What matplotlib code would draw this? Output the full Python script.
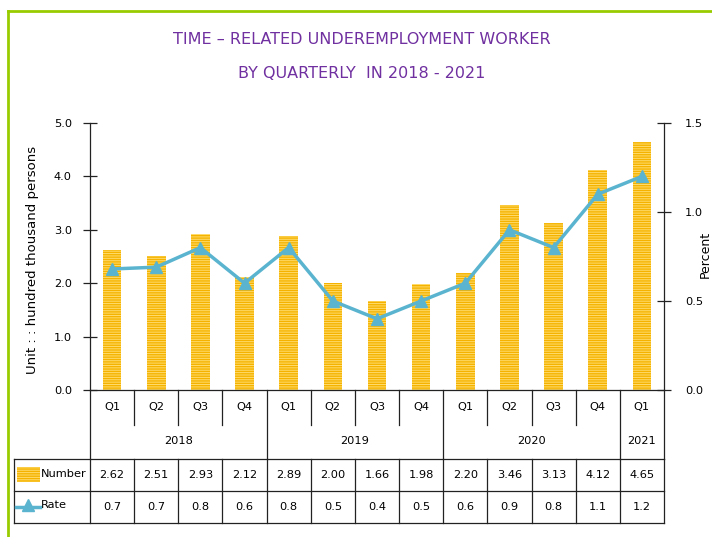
import matplotlib
matplotlib.use('Agg')
import matplotlib.pyplot as plt
from matplotlib.lines import Line2D
from matplotlib.patches import Rectangle
import matplotlib.transforms as mtransforms

# ---- data ----
quarters = ['Q1', 'Q2', 'Q3', 'Q4', 'Q1', 'Q2', 'Q3', 'Q4', 'Q1', 'Q2', 'Q3', 'Q4', 'Q1']
years = ['2018', '2019', '2020', '2021']
year_counts = [4, 4, 4, 1]
number = [2.62, 2.51, 2.93, 2.12, 2.89, 2.00, 1.66, 1.98, 2.20, 3.46, 3.13, 4.12, 4.65]
rate = [0.68, 0.69, 0.8, 0.6, 0.8, 0.5, 0.4, 0.5, 0.6, 0.9, 0.8, 1.1, 1.2]
left_ticks = [0.0, 1.0, 2.0, 3.0, 4.0, 5.0]
right_ticks = [0.0, 0.5, 1.0, 1.5]
title1 = 'TIME \u2013 RELATED UNDEREMPLOYMENT WORKER'
title2 = 'BY QUARTERLY  IN 2018 - 2021'
ylabel_left = 'Unit : : hundred thousand persons'
ylabel_right = 'Percent'
row_labels = ['Number', 'Rate']

plt.rcParams['font.family'] = ['DejaVu Sans']
plt.rcParams['hatch.linewidth'] = 0.7

W, H = 712, 537
fig = plt.figure(figsize=(W / 100, H / 100), dpi=100)


def fx(x):
    return x / W


def fy(y):
    return 1 - y / H


BAR = '#F5B300'
STRIPE = '#FFDD70'
LINE = '#5AB4CF'
PURPLE = '#7030A0'
GREEN = '#99CC00'
FS = 8.2

ax = fig.add_axes([fx(90), fy(390), fx(664) - fx(90), fy(123) - fy(390)])
ax2 = ax.twinx()
xs = list(range(len(quarters)))

ax.bar(xs, number, width=0.42, color=BAR, edgecolor=STRIPE, hatch='-------', linewidth=0)
ax.set_xlim(-0.5, len(quarters) - 0.5)
ax.set_ylim(left_ticks[0], left_ticks[-1])
ax.set_yticks(left_ticks)
ax.set_yticklabels([f'{v:.1f}' for v in left_ticks], fontsize=FS)
ax.set_xticks([])

ax2.plot(xs, rate, color=LINE, lw=2.5, marker='^', ms=9, zorder=3)
ax2.set_ylim(right_ticks[0], right_ticks[-1])
ax2.set_yticks(right_ticks)
ax2.set_yticklabels([f'{v:.1f}' for v in right_ticks], fontsize=FS)
ax2.set_xlim(-0.5, len(quarters) - 0.5)

for a in (ax, ax2):
    a.spines['top'].set_visible(False)
    for s in a.spines.values():
        s.set_color('#222222')
        s.set_linewidth(0.9)
    a.patch.set_visible(False)
ax.spines['right'].set_visible(False)
ax2.spines['left'].set_visible(False)
ax2.spines['bottom'].set_visible(False)
ax.tick_params(axis='y', direction='inout', length=10, width=0.9, pad=8, colors='#222222', labelcolor='black')
ax2.tick_params(axis='y', direction='inout', length=10, width=0.9, pad=10, colors='#222222', labelcolor='black')

# ---- table under the axis ----
blend = mtransforms.blended_transform_factory(ax.transData, fig.transFigure)
lc = '#222222'
lw = 0.9
n = len(quarters)
year_bounds = [0]
for c in year_counts:
    year_bounds.append(year_bounds[-1] + c)

for k in range(n + 1):
    xb = k - 0.5
    fig.add_artist(Line2D([xb, xb], [fy(459), fy(523)], transform=blend, color=lc, lw=lw))
    if k in year_bounds:
        fig.add_artist(Line2D([xb, xb], [fy(390), fy(459)], transform=blend, color=lc, lw=lw))
    else:
        fig.add_artist(Line2D([xb, xb], [fy(390), fy(425)], transform=blend, color=lc, lw=lw))

for yy in (459, 491, 523):
    fig.add_artist(Line2D([fx(14), fx(664)], [fy(yy), fy(yy)], transform=fig.transFigure, color=lc, lw=lw))
fig.add_artist(Line2D([fx(14), fx(14)], [fy(459), fy(523)], transform=fig.transFigure, color=lc, lw=lw))

for i, q in enumerate(quarters):
    fig.text(i, fy(407), q, transform=blend, ha='center', va='center', fontsize=FS)
    fig.text(i, fy(475), f'{number[i]:.2f}', transform=blend, ha='center', va='center', fontsize=FS)
    fig.text(i, fy(507), f'{rate[i]:.1f}', transform=blend, ha='center', va='center', fontsize=FS)

for j, yname in enumerate(years):
    center = (year_bounds[j] + year_bounds[j + 1] - 1) / 2
    fig.text(center, fy(441), yname, transform=blend, ha='center', va='center', fontsize=FS)

# legend keys in table
fig.add_artist(Rectangle((fx(17), fy(482)), fx(40) - fx(17), fy(467) - fy(482), transform=fig.transFigure,
                         facecolor=BAR, edgecolor=STRIPE, hatch='-------', linewidth=0))
fig.add_artist(Line2D([fx(16), fx(40)], [fy(507), fy(507)], transform=fig.transFigure, color=LINE, lw=2.5))
fig.add_artist(Line2D([fx(28)], [fy(505)], transform=fig.transFigure, color=LINE, marker='^', ms=8, lw=0))
fig.text(fx(41), fy(474), row_labels[0], ha='left', va='center', fontsize=FS)
fig.text(fx(41), fy(505), row_labels[1], ha='left', va='center', fontsize=FS)

# titles and axis labels
fig.text(fx(362), fy(40), title1, ha='center', va='center', color=PURPLE, fontsize=11.5)
fig.text(fx(362), fy(74), title2, ha='center', va='center', color=PURPLE, fontsize=11.5)
fig.text(fx(33), fy(260), ylabel_left, rotation=90, ha='center', va='center', fontsize=9.5)
fig.text(fx(705), fy(254), ylabel_right, rotation=90, ha='center', va='center', fontsize=9)

# green frame
fig.add_artist(Line2D([fx(8), fx(8)], [0, fy(11)], transform=fig.transFigure, color=GREEN, lw=2))
fig.add_artist(Line2D([fx(8), 1], [fy(11), fy(11)], transform=fig.transFigure, color=GREEN, lw=2))

fig.savefig('out.png', dpi=100)
